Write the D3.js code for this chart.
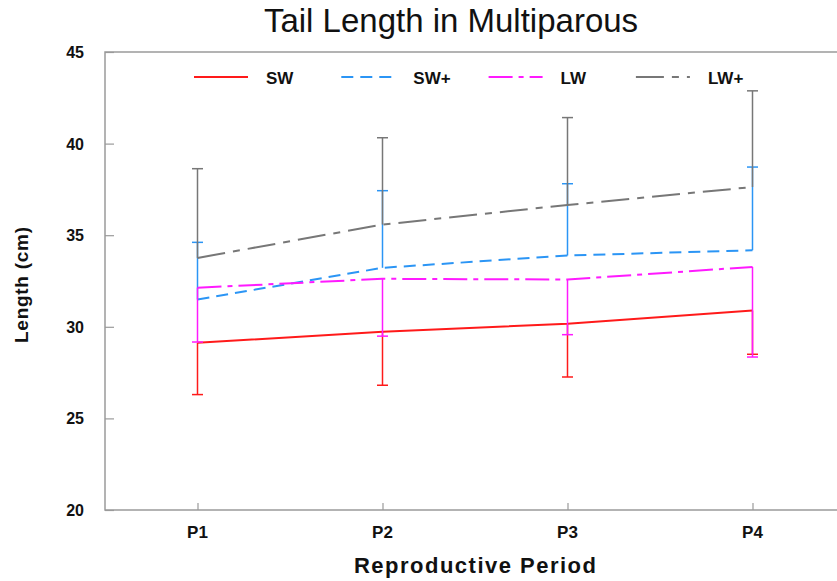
<!DOCTYPE html>
<html>
<head>
<meta charset="utf-8">
<script src="https://cdn.jsdelivr.net/npm/d3@7"></script>
<style>
    body { margin: 0; background: #fff; }
    svg { display: block; font-family: "Liberation Sans", Arial, sans-serif; }
</style>
</head>
<body>
<script>
//Data
var periods = ['P1', 'P2', 'P3', 'P4'];
var seriesNames = ['SW', 'SW+', 'LW', 'LW+'];

var swMean = [29.13, 29.73, 30.17, 30.89];
var swErr = [26.30, 26.81, 27.26, 28.50];
var swPlusMean = [31.49, 33.22, 33.89, 34.18];
var swPlusErr = [34.61, 37.43, 37.81, 38.72];
var lwMean = [32.13, 32.62, 32.58, 33.27];
var lwErr = [29.17, 29.49, 29.57, 28.35];
var lwPlusMean = [33.76, 35.58, 36.65, 37.63];
var lwPlusErr = [38.63, 40.32, 41.42, 42.88];

var yTicks = [20, 25, 30, 35, 40, 45];

//Width and height
var w = 837;
var h = 581;
// plot box (right edge runs past the picture)
var mLeft = 105, mRight = 845, mTop = 52, mBottom = 510;

var series = [
    {name: seriesNames[0], mean: swMean, err: swErr, color: '#ff1a1a', dash: null},
    {name: seriesNames[1], mean: swPlusMean, err: swPlusErr, color: '#2b95f5', dash: '12,7'},
    {name: seriesNames[2], mean: lwMean, err: lwErr, color: '#ff1aff', dash: '24,6,5,6'},
    {name: seriesNames[3], mean: lwPlusMean, err: lwPlusErr, color: '#777777', dash: '28,8,7,8'}
];

var x = d3.scalePoint()
    .domain(periods)
    .range([mLeft, mRight])
    .padding(0.5);

var y = d3.scaleLinear()
    .domain([20, 45])
    .range([mBottom, mTop]);

//Create SVG element
var svg = d3.select('body')
    .append('svg')
    .attr('width', w)
    .attr('height', h);

// frame
svg.append('path')
    .attr('d', `M${w},${mTop}H${mLeft}V${mBottom}H${w}`)
    .attr('fill', 'none')
    .attr('stroke', '#9a9a9a')
    .attr('stroke-width', 1.5);

// y axis, ticks pointing in
var yAxis = d3.axisRight(y)
    .tickValues(yTicks)
    .tickSize(9)
    .tickFormat('');
svg.append('g')
    .attr('transform', `translate(${mLeft},0)`)
    .call(yAxis)
    .call(g => g.select('.domain').remove())
    .call(g => g.selectAll('.tick line').attr('stroke', '#9a9a9a').attr('stroke-width', 1.2));

svg.append('g').selectAll('text')
    .data(yTicks)
    .enter()
    .append('text')
    .attr('x', 84)
    .attr('y', d => y(d) + 6)
    .attr('text-anchor', 'end')
    .style('font-size', '16px')
    .style('font-weight', 'bold')
    .attr('fill', '#111')
    .text(d => d);

// x axis, ticks pointing up
var xAxis = d3.axisTop(x)
    .tickSize(7)
    .tickFormat('');
svg.append('g')
    .attr('transform', `translate(0,${mBottom})`)
    .call(xAxis)
    .call(g => g.select('.domain').remove())
    .call(g => g.selectAll('.tick line').attr('stroke', '#9a9a9a').attr('stroke-width', 1.2));

svg.append('g').selectAll('text')
    .data(periods)
    .enter()
    .append('text')
    .attr('x', d => x(d))
    .attr('y', 538)
    .attr('text-anchor', 'middle')
    .style('font-size', '17px')
    .style('font-weight', 'bold')
    .attr('fill', '#111')
    .text(d => d);

// titles
svg.append('text')
    .attr('x', 451)
    .attr('y', 32)
    .attr('text-anchor', 'middle')
    .style('font-size', '33px')
    .attr('fill', '#111')
    .text('Tail Length in Multiparous');

svg.append('text')
    .attr('x', (mLeft + mRight) / 2)
    .attr('y', 573)
    .attr('text-anchor', 'middle')
    .attr('textLength', 242)
    .style('font-size', '22px')
    .style('font-weight', 'bold')
    .attr('fill', '#111')
    .text('Reproductive Period');

svg.append('text')
    .attr('transform', 'translate(28,285) rotate(-90)')
    .attr('text-anchor', 'middle')
    .attr('textLength', 116)
    .style('font-size', '19px')
    .style('font-weight', 'bold')
    .attr('fill', '#111')
    .text('Length (cm)');

// lines + error bars
var line = d3.line()
    .x((d, i) => x(periods[i]))
    .y(d => y(d));

var data_g = svg.append('g').attr('class', 'series');

series.forEach(s => {
    var g = data_g.append('g').attr('class', 'serie');

    g.selectAll('.bar')
        .data(s.mean)
        .enter()
        .append('line')
        .attr('x1', (d, i) => x(periods[i]))
        .attr('x2', (d, i) => x(periods[i]))
        .attr('y1', d => y(d))
        .attr('y2', (d, i) => y(s.err[i]))
        .attr('stroke', s.color)
        .attr('stroke-width', 1.5);

    g.selectAll('.cap')
        .data(s.err)
        .enter()
        .append('line')
        .attr('x1', (d, i) => x(periods[i]) - 5.5)
        .attr('x2', (d, i) => x(periods[i]) + 5.5)
        .attr('y1', d => y(d))
        .attr('y2', d => y(d))
        .attr('stroke', s.color)
        .attr('stroke-width', 1.5);

    g.append('path')
        .datum(s.mean)
        .attr('d', line)
        .attr('fill', 'none')
        .attr('stroke', s.color)
        .attr('stroke-width', 2)
        .attr('stroke-dasharray', s.dash);
});

// legend
var legend = svg.append('g').attr('class', 'legend');
series.forEach((s, i) => {
    var lx = 194 + i * 147.3;
    legend.append('line')
        .attr('x1', lx)
        .attr('x2', lx + 54)
        .attr('y1', 77)
        .attr('y2', 77)
        .attr('stroke', s.color)
        .attr('stroke-width', 2)
        .attr('stroke-dasharray', s.dash);
    legend.append('text')
        .attr('x', lx + 72)
        .attr('y', 84)
        .style('font-size', '17px')
        .style('font-weight', 'bold')
        .attr('fill', '#111')
        .text(s.name);
});
</script>
</body>
</html>
